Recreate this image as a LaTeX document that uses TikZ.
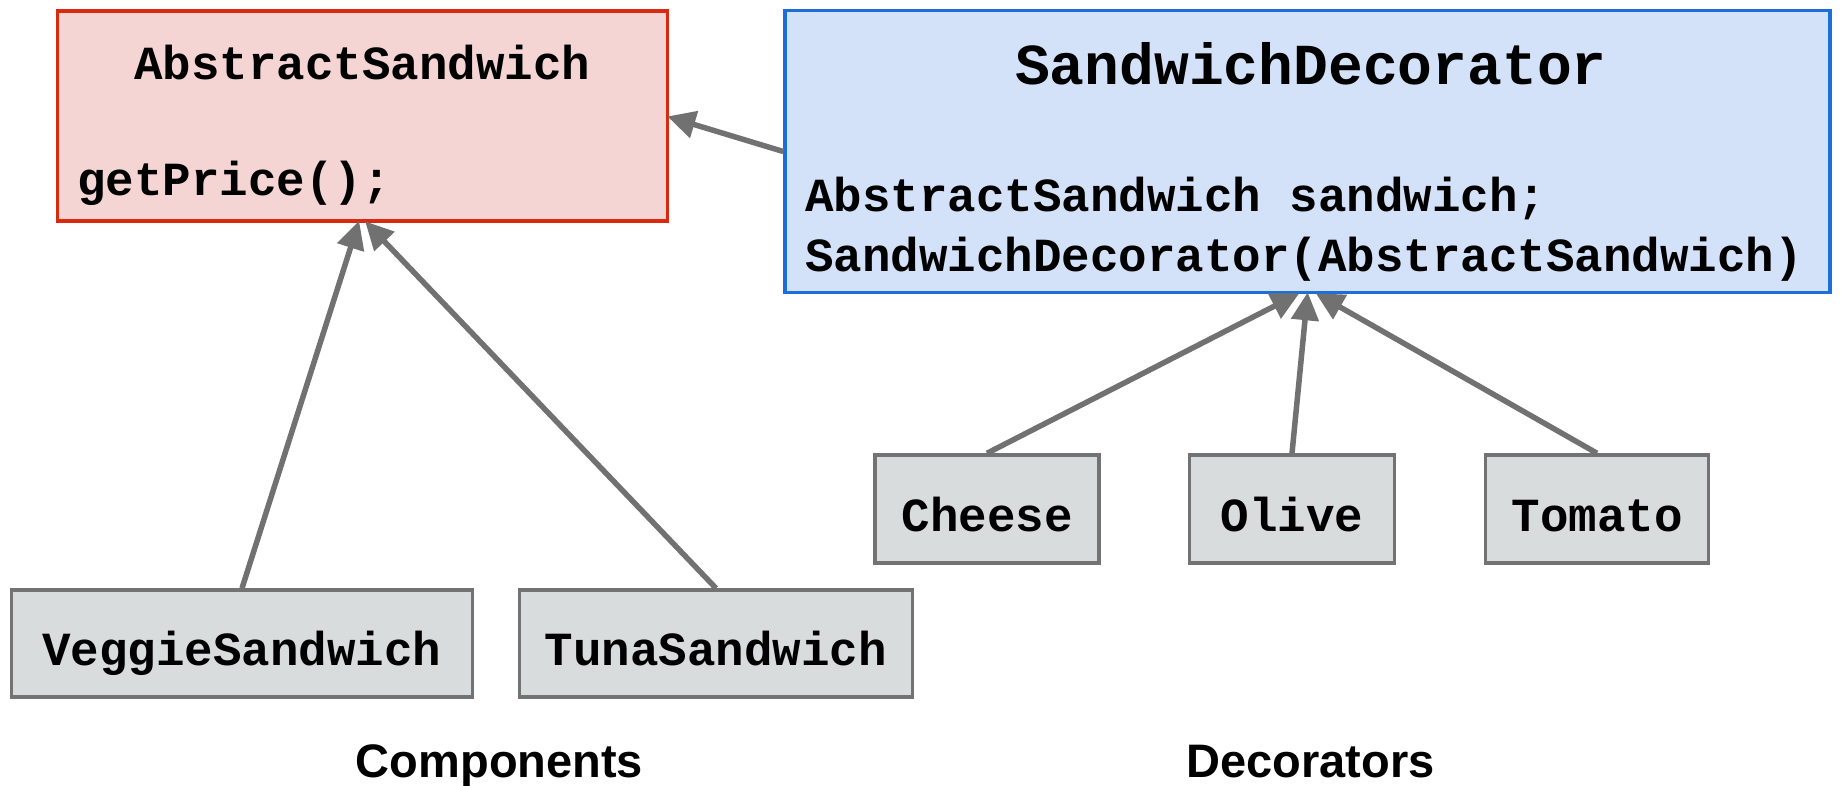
\documentclass[tikz,border=0pt]{standalone}
\usepackage{fontspec}
\setmainfont{Liberation Sans}
\newfontfamily\codefont{Liberation Mono}
\usetikzlibrary{arrows.meta,calc}

\definecolor{absfill}{HTML}{F4D5D4}
\definecolor{absline}{HTML}{D9290F}
\definecolor{decfill}{HTML}{D3E2F9}
\definecolor{decline}{HTML}{1C6FDB}
\definecolor{leaffill}{HTML}{D9DCDD}
\definecolor{leafline}{HTML}{737373}
\definecolor{linkgray}{HTML}{717171}

\begin{document}
\begin{tikzpicture}[x=1pt,y=-1pt,
  box/.style={draw, rectangle, inner sep=0pt, line width=3.5pt},
  leaf/.style={box, draw=leafline, fill=leaffill, text height=44pt, text depth=0pt,
    font=\codefont\bfseries\fontsize{47.5}{47.5}\selectfont},
  code/.style={font=\codefont\bfseries\fontsize{47.5}{47.5}\selectfont, inner sep=0pt},
  bigcode/.style={font=\codefont\bfseries\fontsize{58}{58}\selectfont, inner sep=0pt},
  link/.style={draw=linkgray, line width=5.5pt,
    -{Triangle[length=28pt,width=27pt]}, shorten >=-2pt},
  caption/.style={font=\bfseries\fontsize{47}{47}\selectfont, inner sep=0pt}]

\useasboundingbox (0,0) rectangle (1843,785);

% abstract component
\node[box, draw=absline, fill=absfill, minimum width=610pt, minimum height=210pt]
  (abs) at (362.5,116) {};
\node[code, anchor=base] (absname) at (362.5,79) {AbstractSandwich};
\node[code, anchor=base west] (absprice) at (77,195) {getPrice();};

% decorator base
\node[box, draw=decline, fill=decfill, minimum width=1045pt, minimum height=282pt]
  (dec) at (1307.5,151.5) {};
\node[bigcode, anchor=base] (decname) at (1311,84) {SandwichDecorator};
\node[code, anchor=base west] (decfield) at (805,211.5) {AbstractSandwich sandwich;};
\node[code, anchor=base west] (decctor) at (805,271.5) {SandwichDecorator(AbstractSandwich)};

% concrete components
\node[leaf, minimum width=461pt, minimum height=107pt] (veg) at (242,643.5) {VeggieSandwich};
\node[leaf, minimum width=393pt, minimum height=107pt] (tuna) at (716,643.5) {TunaSandwich};

% concrete decorators
\node[leaf, minimum width=224pt, minimum height=108pt] (cheese) at (987,509) {Cheese};
\node[leaf, minimum width=205pt, minimum height=108pt] (olive) at (1292,509) {Olive};
\node[leaf, minimum width=223pt, minimum height=108pt] (tomato) at (1597,509) {Tomato};

% group captions
\node[caption, anchor=base] (compcap) at (499.5,777) {Components};
\node[caption, anchor=base] (deccap) at (1310.5,777) {Decorators};

% inheritance links
\draw[link] (dec.west) -- ($(abs.east)+(0,1)$);
\draw[link] (veg.north) -- ($(abs.south)+(-4,0)$);
\draw[link] (tuna.north) -- ($(abs.south)+(4,0)$);
\draw[link] (cheese.north) -- ($(dec.south)+(-10,0)$);
\draw[link] (olive.north) -- ($(dec.south)+(0,0)$);
\draw[link] (tomato.north) -- ($(dec.south)+(10,0)$);
\end{tikzpicture}
\end{document}
